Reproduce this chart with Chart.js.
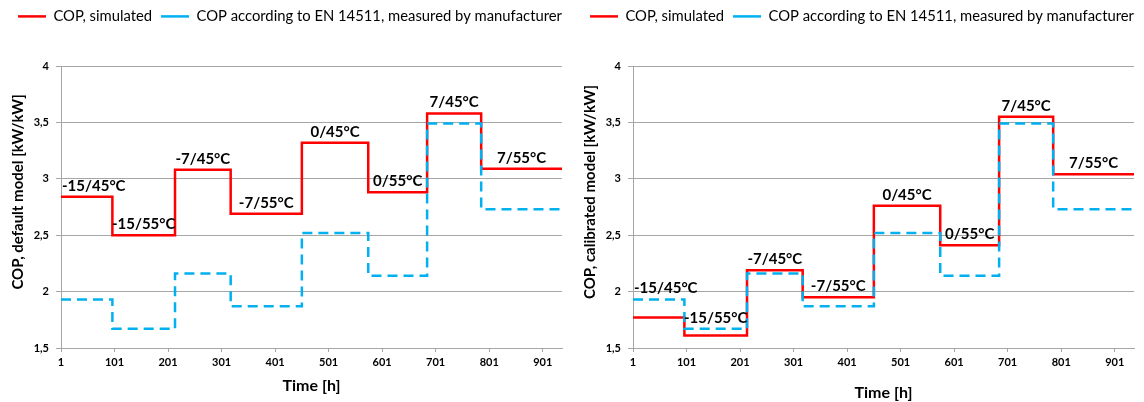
<!DOCTYPE html>
<html><head><meta charset="utf-8">
<script src="https://cdn.jsdelivr.net/npm/chart.js@4"></script>
<style>
html,body{margin:0;padding:0;background:#fff;}
#wrap{display:flex;width:1144px;height:402px;}
canvas{display:block;}
</style></head><body>
<div id="wrap"><canvas id="c1" width="572" height="402"></canvas><canvas id="c2" width="572" height="402"></canvas></div>
<script>
// ---- data ----
const stepStartHours = [1, 97, 214, 318, 451, 575, 685, 786];
const endHour = 937;
const conditionLabels = ['-15/45°C', '-15/55°C', '-7/45°C', '-7/55°C', '0/45°C', '0/55°C', '7/45°C', '7/55°C'];
const copSimulatedDefault = [2.84, 2.50, 3.08, 2.69, 3.32, 2.88, 3.58, 3.09];
const copSimulatedCalibrated = [1.77, 1.61, 2.19, 1.95, 2.76, 2.41, 3.55, 3.04];
const copMeasured = [1.93, 1.67, 2.16, 1.87, 2.52, 2.14, 3.49, 2.73];
const xTickValues = [1, 101, 201, 301, 401, 501, 601, 701, 801, 901];
const yTickValues = [1.5, 2, 2.5, 3, 3.5, 4];
const seriesNames = ['COP, simulated', 'COP according to EN 14511, measured by manufacturer'];
const yTitles = ['COP, default model [kW/kW]', 'COP, calibrated model [kW/kW]'];
const xTitle = 'Time [h]';

const FONT = 'Lato';
const GRID = '#a6a6a6';

function stepPoints(values) {
  const pts = stepStartHours.map((h, i) => ({x: h, y: values[i]}));
  pts.push({x: endHour, y: values[values.length - 1]});
  return pts;
}

function makeChart(canvas, simValues, yTitle, xTitlePadBottom) {
  const labelPlugin = {
    id: 'stepLabels',
    afterDatasetsDraw(chart) {
      const {ctx, chartArea, scales: {x, y}} = chart;
      ctx.save();
      ctx.font = 'bold 15px ' + FONT;
      ctx.fillStyle = '#000';
      ctx.textAlign = 'center';
      ctx.textBaseline = 'alphabetic';
      conditionLabels.forEach((t, i) => {
        const h0 = stepStartHours[i];
        const h1 = i + 1 < stepStartHours.length ? stepStartHours[i + 1] : endHour;
        const v = Math.max(simValues[i], copMeasured[i]);
        const w = ctx.measureText(t).width;
        let cx = x.getPixelForValue((h0 + h1) / 2);
        cx = Math.max(cx, chartArea.left + w / 2 + 1);
        ctx.fillText(t, cx, y.getPixelForValue(v) - 6);
      });
      ctx.restore();
    }
  };
  const yTitlePlugin = {
    id: 'yTitle',
    afterDraw(chart) {
      const {ctx, chartArea} = chart;
      ctx.save();
      ctx.translate(18, (chartArea.top + chartArea.bottom) / 2 - 15);
      ctx.rotate(-Math.PI / 2);
      ctx.font = 'bold 15px ' + FONT;
      ctx.fillStyle = '#000';
      ctx.textAlign = 'center';
      ctx.textBaseline = 'middle';
      ctx.fillText(yTitle, 0, 0);
      ctx.restore();
    }
  };
  const legendSpacer = {
    id: 'legendSpacer',
    beforeLayout(chart) {
      const lg = chart.legend;
      if (lg && !lg._patched) {
        lg._patched = true;
        const origFit = lg.fit;
        lg.fit = function () { origFit.call(this); this.height = 66; };
        const origDraw = lg.draw;
        lg.draw = function () {
          const c = this.ctx;
          c.save();
          c.translate(9, 0);
          origDraw.apply(this, arguments);
          c.restore();
        };
      }
    }
  };
  return new Chart(canvas, {
    type: 'line',
    data: {
      datasets: [
        {
          label: seriesNames[0],
          data: stepPoints(simValues),
          borderColor: '#ff0000',
          backgroundColor: '#ff0000',
          borderWidth: 2.5,
          stepped: 'before',
          pointRadius: 0,
          fill: false,
          order: 1
        },
        {
          label: seriesNames[1],
          data: stepPoints(copMeasured),
          borderColor: '#00b0f0',
          backgroundColor: '#00b0f0',
          borderWidth: 2.5,
          borderDash: [10, 6],
          stepped: 'before',
          pointRadius: 0,
          fill: false,
          order: 0
        }
      ]
    },
    options: {
      responsive: false,
      animation: false,
      devicePixelRatio: 1,
      layout: {padding: {left: 0, right: 10, top: 0, bottom: 0}},
      plugins: {
        tooltip: {enabled: false},
        legend: {
          position: 'top',
          labels: {
            usePointStyle: true,
            pointStyle: 'line',
            pointStyleWidth: 28,
            boxWidth: 28,
            padding: 9,
            color: '#000',
            font: {family: FONT, size: 14.8},
            sort: (a, b) => a.datasetIndex - b.datasetIndex
          }
        }
      },
      scales: {
        x: {
          type: 'linear',
          min: 1,
          max: endHour,
          afterBuildTicks: (s) => { s.ticks = xTickValues.map(v => ({value: v})); },
          afterFit: (s) => { s.height = 54; },
          ticks: {
            autoSkip: false,
            maxRotation: 0,
            padding: 4,
            color: '#000',
            font: {family: FONT, size: 11, weight: 'bold'}
          },
          grid: {drawOnChartArea: false, drawTicks: true, tickLength: 4, color: GRID},
          border: {color: GRID},
          title: {
            display: true,
            text: xTitle,
            color: '#000',
            font: {family: FONT, size: 16, weight: 'bold'},
            padding: {top: 0, bottom: xTitlePadBottom}
          }
        },
        y: {
          min: 1.5,
          max: 4,
          afterBuildTicks: (s) => { s.ticks = yTickValues.map(v => ({value: v})); },
          afterFit: (s) => { s.width = 61; },
          ticks: {
            padding: 7,
            color: '#000',
            font: {family: FONT, size: 11, weight: 'bold'},
            callback: (v) => String(v).replace('.', ',')
          },
          grid: {color: GRID, tickLength: 5, drawTicks: true},
          border: {color: GRID}
        }
      }
    },
    plugins: [legendSpacer, labelPlugin, yTitlePlugin]
  });
}

makeChart(document.getElementById('c1'), copSimulatedDefault, yTitles[0], 7);
makeChart(document.getElementById('c2'), copSimulatedCalibrated, yTitles[1], 0);
</script>
</body></html>
